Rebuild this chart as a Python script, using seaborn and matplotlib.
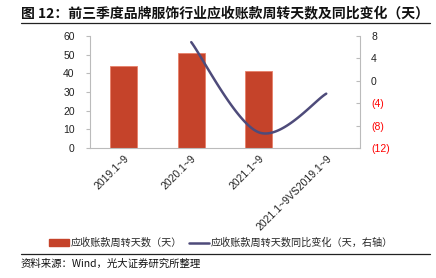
import numpy as np
import pandas as pd
import matplotlib
matplotlib.use("Agg")
import matplotlib.pyplot as plt
import seaborn as sns
from matplotlib.patches import Patch
from matplotlib.lines import Line2D

categories = ["2019.1~9", "2020.1~9", "2021.1~9", "2021.1~9VS2019.1~9"]
days = [44.0, 50.7, 41.4, np.nan]
yoy_change = [np.nan, 6.9, -9.2, -2.3]
right_ticks = [8, 4, 0, -4, -8, -12]
left_ticks = [0, 10, 20, 30, 40, 50, 60]

title = "图 12：前三季度品牌服饰行业应收账款周转天数及同比变化（天）"
legend_bar = "应收账款周转天数（天）"
legend_line = "应收账款周转天数同比变化（天，右轴）"
source = "资料来源：Wind，光大证券研究所整理"

BAR_C = "#C5432A"
LINE_C = "#4E4B7A"

sns.set_style("white")
plt.rcParams['font.family'] = ['Liberation Sans', 'Noto Sans CJK SC', 'DejaVu Sans']
cjk = ['Noto Sans CJK SC', 'DejaVu Sans']

fig = plt.figure(figsize=(4.36, 2.78), dpi=100)
ax = fig.add_axes([90/436, 1-148/278, 270/436, 112/278])

df = pd.DataFrame({"cat": categories, "days": days})
sns.barplot(data=df, x="cat", y="days", ax=ax, color=BAR_C, width=0.4,
            saturation=1, edgecolor="#E8806A", linewidth=0.6)
ax.set_xlim(-0.5, 3.5)
ax.set_ylim(0, 60)
ax.set_yticks(left_ticks)
ax.set_xlabel("")
ax.set_ylabel("")
ax.set_xticks(range(len(categories)))
ax.set_xticklabels(categories, rotation=45, ha="right", rotation_mode="anchor",
                   fontsize=7.5, color="#222222")
ax.tick_params(axis="x", length=0, pad=4)
ax.set_xticks([0.5, 1.5, 2.5], minor=True)
ax.tick_params(axis="x", which="minor", direction="in", length=3, color="#BBBBBB")
ax.tick_params(axis="y", length=3, color="#BBBBBB", labelsize=7.5, labelcolor="#222222", pad=8)
for s in ["top", "right"]:
    ax.spines[s].set_visible(False)
for s in ["left", "bottom"]:
    ax.spines[s].set_color("#BBBBBB")
    ax.spines[s].set_linewidth(0.8)

ax2 = ax.twinx()
ax2.set_ylim(-12, 8)
ax2.set_yticks(right_ticks)
ax2.set_yticklabels([str(t) if t >= 0 else f"({-t})" for t in right_ticks], fontsize=7.5)
for lbl, t in zip(ax2.get_yticklabels(), right_ticks):
    lbl.set_color("#222222" if t >= 0 else "#FF0000")
ax2.tick_params(axis="y", direction="in", length=3, color="#BBBBBB", pad=8)
for s in ["top", "left", "bottom"]:
    ax2.spines[s].set_visible(False)
ax2.spines["right"].set_color("#BBBBBB")
ax2.spines["right"].set_linewidth(0.8)

# smoothed line (Excel-style Bezier smoothing through the data points)
xs = np.array([i for i, v in enumerate(yoy_change) if not np.isnan(v)], dtype=float)
ys = np.array([v for v in yoy_change if not np.isnan(v)], dtype=float)
P = np.column_stack([xs, ys])
curve = []
t = np.linspace(0, 1, 60)[:, None]
n = len(P)
for i in range(n - 1):
    p0 = P[i - 1] if i > 0 else P[i]
    p1, p2 = P[i], P[i + 1]
    p3 = P[i + 2] if i + 2 < n else P[i + 1]
    c1 = p1 + (p2 - p0) / 6
    c2 = p2 - (p3 - p1) / 6
    seg = ((1 - t) ** 3) * p1 + 3 * ((1 - t) ** 2) * t * c1 + 3 * (1 - t) * t ** 2 * c2 + t ** 3 * p2
    curve.append(seg)
curve = np.vstack(curve)
sns.lineplot(x=curve[:, 0], y=curve[:, 1], ax=ax2, color=LINE_C, linewidth=1.8,
             sort=False, estimator=None)
ax2.set_xlim(-0.5, 3.5)

# title and rules
fig.text(21/436, 1-13/278, title, fontsize=10, fontweight="bold", family=cjk,
         va="center", ha="left", color="#111111")
fig.add_artist(Line2D([21/436, 430/436], [1-23/278, 1-23/278], color="#222222", lw=0.9))
fig.add_artist(Line2D([21/436, 430/436], [1-254/278, 1-254/278], color="#222222", lw=0.9))
fig.text(21/436, 1-264/278, source, fontsize=7.5, family=cjk, va="center", ha="left",
         color="#111111")

handles = [Patch(facecolor=BAR_C, edgecolor=BAR_C),
           Line2D([0], [0], color=LINE_C, lw=1.8)]
leg = fig.legend(handles, [legend_bar, legend_line], loc="center",
                 bbox_to_anchor=(221/436, 1-243/278), ncol=2, frameon=False,
                 prop={"family": cjk, "size": 7.3}, handlelength=2.0,
                 handleheight=0.6, handletextpad=0.2, columnspacing=0.6)

fig.savefig("out.png", dpi=100)
